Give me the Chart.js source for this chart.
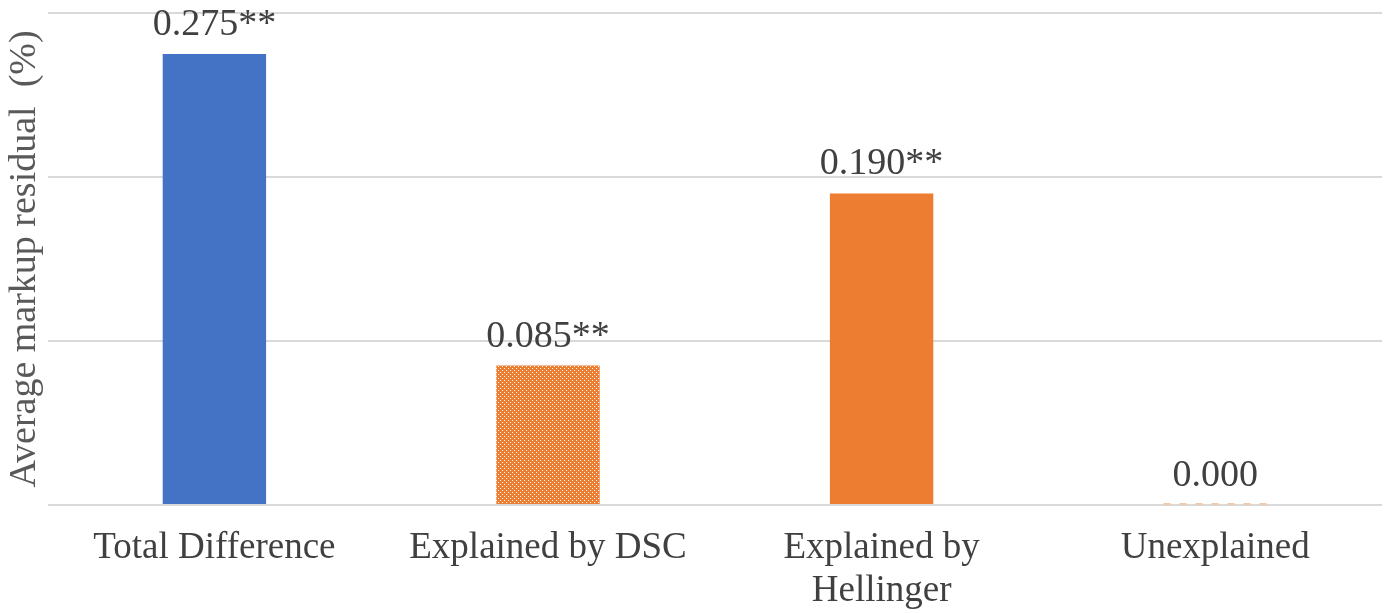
<!DOCTYPE html>
<html>
<head>
<meta charset="utf-8">
<script src="https://cdn.jsdelivr.net/npm/chart.js@4/dist/chart.umd.min.js"></script>
<style>
  html, body { margin: 0; padding: 0; background: #ffffff; }
  #wrap { width: 1390px; height: 614px; position: relative; }
</style>
</head>
<body>
<div id="wrap"><canvas id="c"></canvas></div>
<script>
// Decomposition of the average markup residual
const categories = ['Total Difference', 'Explained by DSC', ['Explained by', 'Hellinger'], 'Unexplained'];
const values = [0.275, 0.085, 0.190, 0.000];
const valueLabels = ['0.275**', '0.085**', '0.190**', '0.000'];
const yTicks = [0, 0.1, 0.2, 0.3];

const BLUE = '#4472c4';
const ORANGE = '#ed7d31';
const SERIF = '"Liberation Serif", "Times New Roman", serif';

// small dotted fill for the DSC bar
function makePattern() {
  const t = document.createElement('canvas');
  t.width = 4; t.height = 4;
  const g = t.getContext('2d');
  g.fillStyle = ORANGE;
  g.fillRect(0, 0, 4, 4);
  g.fillStyle = '#ffffff';
  g.fillRect(0, 0, 1, 1);
  g.fillRect(2, 2, 1, 1);
  return g.createPattern(t, 'repeat');
}

const fills = [BLUE, makePattern(), ORANGE, ORANGE];

const valueLabelPlugin = {
  id: 'valueLabels',
  afterDatasetsDraw(chart) {
    const ctx = chart.ctx;
    const meta = chart.getDatasetMeta(0);
    ctx.save();
    ctx.font = '38px ' + SERIF;
    ctx.fillStyle = '#404040';
    ctx.textAlign = 'center';
    ctx.textBaseline = 'bottom';
    meta.data.forEach((bar, i) => {
      if (values[i] === 0) {
        // zero-height bar shown as a faint dashed outline
        ctx.save();
        ctx.strokeStyle = '#f6c8a8';
        ctx.lineWidth = 2;
        ctx.setLineDash([7, 9]);
        ctx.beginPath();
        ctx.moveTo(bar.x - bar.width / 2, bar.y - 1);
        ctx.lineTo(bar.x + bar.width / 2, bar.y - 1);
        ctx.stroke();
        ctx.restore();
      }
      ctx.fillText(valueLabels[i], bar.x, bar.y - 10);
    });
    ctx.restore();
  }
};

new Chart(document.getElementById('c'), {
  type: 'bar',
  data: {
    labels: categories,
    datasets: [{
      data: values,
      backgroundColor: fills,
      borderWidth: 0,
      barPercentage: 0.62,
      categoryPercentage: 0.5
    }]
  },
  options: {
    responsive: true,
    maintainAspectRatio: false,
    animation: false,
    layout: { padding: { left: 2, right: 8, top: 13, bottom: 0 } },
    plugins: {
      legend: { display: false },
      tooltip: { enabled: false }
    },
    scales: {
      x: {
        grid: { display: false, drawTicks: false },
        border: { display: false },
        afterFit(scale) { scale.height = 109; },
        ticks: {
          color: '#404040',
          font: { family: SERIF, size: 37, lineHeight: 1.16 },
          padding: 22,
          maxRotation: 0,
          autoSkip: false
        }
      },
      y: {
        min: 0,
        max: 0.3,
        afterBuildTicks(axis) { axis.ticks = yTicks.map(v => ({ value: v })); },
        grid: { color: '#d9d9d9', lineWidth: 2, drawTicks: false },
        border: { display: false },
        ticks: { display: false },
        title: {
          display: true,
          text: 'Average markup residual  (%)',
          color: '#595959',
          font: { family: SERIF, size: 38 },
          padding: { top: 0, bottom: 0 }
        }
      }
    }
  },
  plugins: [valueLabelPlugin]
});
</script>
</body>
</html>
